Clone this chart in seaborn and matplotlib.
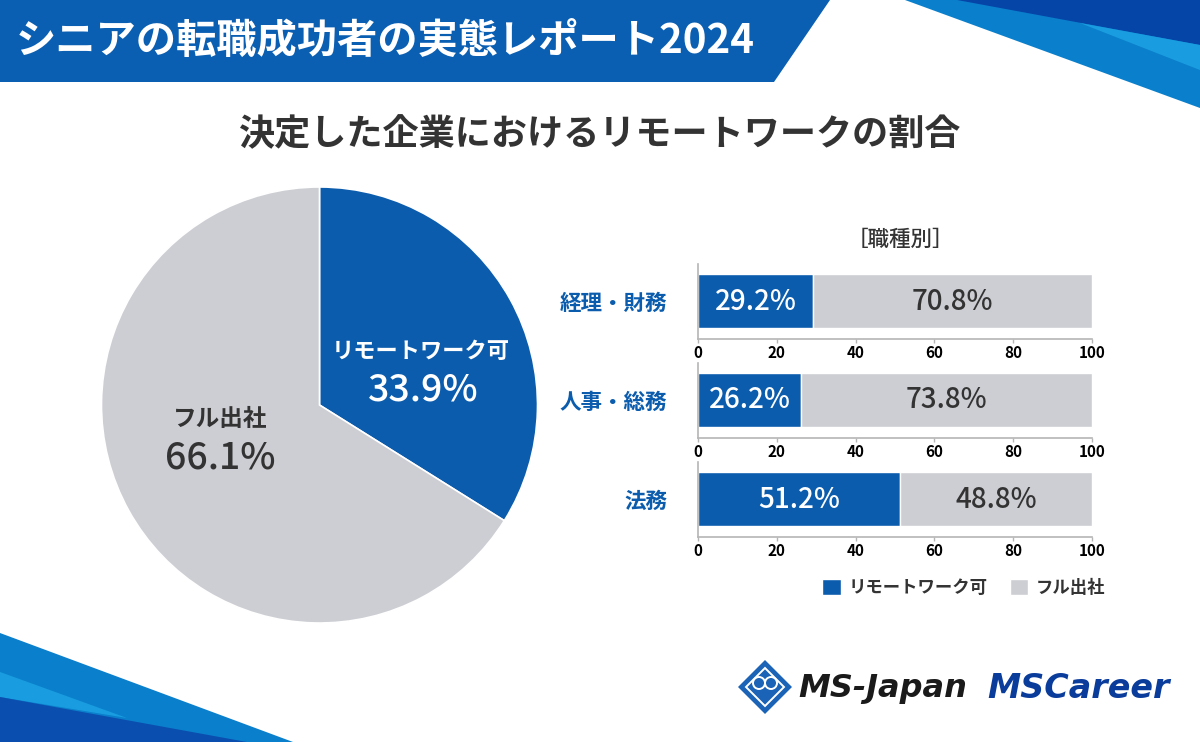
import numpy as np
import pandas as pd
import matplotlib.pyplot as plt
from matplotlib.patches import Polygon, Patch, Circle
import seaborn as sns

# ---- data ----
title = "シニアの転職成功者の実態レポート2024"
subtitle = "決定した企業におけるリモートワークの割合"
bar_heading = "［職種別］"

pie_labels = ["リモートワーク可", "フル出社"]
pie_values = [33.9, 66.1]

job_types = ["経理・財務", "人事・総務", "法務"]
remote_pct = [29.2, 26.2, 51.2]
office_pct = [70.8, 73.8, 48.8]
x_ticks = [0, 20, 40, 60, 80, 100]

# ---- style ----
BLUE = "#0b5cad"
GRAY = "#cdced3"
DARK = "#333333"
SPINE = "#b5b5b5"

sns.set_theme(style="white")
plt.rcParams['font.family'] = ['Noto Sans CJK JP', 'DejaVu Sans']

W, H = 1200, 742
fig = plt.figure(figsize=(12, 7.42), dpi=100)
fig.patch.set_facecolor("white")


def fx(x):
    return x / W


def fy(y):
    return 1 - y / H


# background decoration (pixel coordinates, y down)
bg = fig.add_axes([0, 0, 1, 1])
bg.set_xlim(0, W)
bg.set_ylim(H, 0)
bg.axis("off")
shapes = [
    ([(0, 0), (830, 0), (774, 82), (0, 82)], "#0a5fb3"),
    ([(905, 0), (1200, 0), (1200, 108)], "#0a80cc"),
    ([(957, 0), (1200, 0), (1200, 45)], "#0645a8"),
    ([(1080, 23), (1200, 45), (1200, 70)], "#1a9de0"),
    ([(0, 633), (293, 742), (0, 742)], "#0a80cc"),
    ([(0, 672), (127, 718), (0, 697)], "#1a9de0"),
    ([(0, 697), (247, 742), (0, 742)], "#0a4fb0"),
]
for pts, col in shapes:
    bg.add_patch(Polygon(pts, closed=True, facecolor=col, edgecolor="none"))

# logo mark
bg.add_patch(Polygon([(765, 660), (792, 687), (765, 714), (738, 687)],
                     closed=True, facecolor="#1a63b6", edgecolor="none"))
bg.add_patch(Polygon([(765, 668), (784, 687), (765, 706), (746, 687)],
                     closed=True, facecolor="none", edgecolor="white", lw=1.4))
bg.add_patch(Circle((759, 683), 6, facecolor="none", edgecolor="white", lw=1.4))
bg.add_patch(Circle((771, 683), 6, facecolor="none", edgecolor="white", lw=1.4))

# titles
fig.text(fx(16), fy(41), title, color="white", fontsize=29, fontweight="bold",
         ha="left", va="center")
fig.text(0.5, fy(135), subtitle, color=DARK, fontsize=26, fontweight="bold",
         ha="center", va="center")

# ---- pie ----
cx, cy, r = 319.5, 405, 218
ax_pie = fig.add_axes([fx(cx - r), fy(cy + r), 2 * r / W, 2 * r / H])
ax_pie.pie(pie_values, colors=[BLUE, GRAY], startangle=90, counterclock=False,
           wedgeprops=dict(edgecolor="white", linewidth=1.2))
ax_pie.set_xlim(-1, 1)
ax_pie.set_ylim(-1, 1)
ax_pie.set_aspect("equal")

ax_pie.text(0.466, 0.245, pie_labels[0], color="white", fontsize=16,
            fontweight="bold", ha="center", va="center")
ax_pie.text(0.475, 0.07, f"{pie_values[0]:.1f}%", color="white", fontsize=27,
            fontweight="medium", ha="center", va="center")
ax_pie.text(-0.456, -0.065, pie_labels[1], color=DARK, fontsize=17,
            fontweight="bold", ha="center", va="center")
ax_pie.text(-0.456, -0.24, f"{pie_values[1]:.1f}%", color=DARK, fontsize=27,
            fontweight="medium", ha="center", va="center")

# ---- stacked bars by job type ----
fig.text(fx(900), fy(240), bar_heading, color=DARK, fontsize=15.5,
         fontweight="medium", ha="center", va="center")

bar_centers = [301, 400, 499]
for i, job in enumerate(job_types):
    yc = bar_centers[i]
    ax = fig.add_axes([fx(698), fy(yc + 37.5), 394 / W, 75 / H])
    sns.barplot(x=[remote_pct[i]], y=[job], color=BLUE, width=0.72,
                orient="h", errorbar=None, saturation=1, ax=ax)
    ax.barh(0, office_pct[i], left=remote_pct[i], height=0.72, color=GRAY)
    ax.set_xlim(0, 100)
    ax.set_ylim(0.5, -0.5)
    ax.set_xticks(x_ticks)
    ax.set_xlabel("")
    ax.set_ylabel("")
    ax.tick_params(axis="x", bottom=True, length=3, width=1, color=SPINE,
                   labelsize=11, labelcolor="black", pad=2)
    ax.tick_params(axis="y", left=False, length=0, labelsize=15.5,
                   labelcolor=BLUE, pad=22)
    for lab in ax.get_xticklabels() + ax.get_yticklabels():
        lab.set_fontweight("bold")
    sns.despine(ax=ax)
    for side in ["left", "bottom"]:
        ax.spines[side].set_color(SPINE)
        ax.spines[side].set_linewidth(1.2)
    ax.set_facecolor("none")

    ax.text(remote_pct[i] / 2, 0, f"{remote_pct[i]:.1f}%", color="white",
            fontsize=20, fontweight="medium", ha="center", va="center")
    ax.text(remote_pct[i] + office_pct[i] / 2, 0, f"{office_pct[i]:.1f}%",
            color=DARK, fontsize=20, fontweight="medium", ha="center", va="center")

# legend
handles = [Patch(facecolor=BLUE, label=pie_labels[0]),
           Patch(facecolor=GRAY, label=pie_labels[1])]
fig.legend(handles=handles, loc="center", bbox_to_anchor=(fx(964), fy(588)),
           ncol=2, frameon=False, prop={"size": 12.5, "weight": "bold"},
           labelcolor=DARK, handlelength=1.05, handleheight=1.05,
           handletextpad=0.45, columnspacing=1.3, borderpad=0)

# company logos
fig.text(fx(798), fy(688), "MS-Japan", family="DejaVu Sans", fontweight="bold",
         style="italic", fontsize=23, color="#1a1a1a", ha="left", va="center")
fig.text(fx(987), fy(688), "MSCareer", family="DejaVu Sans", fontweight="bold",
         style="italic", fontsize=24, color="#0a3c9c", ha="left", va="center")

plt.savefig("out.png", dpi=100)
